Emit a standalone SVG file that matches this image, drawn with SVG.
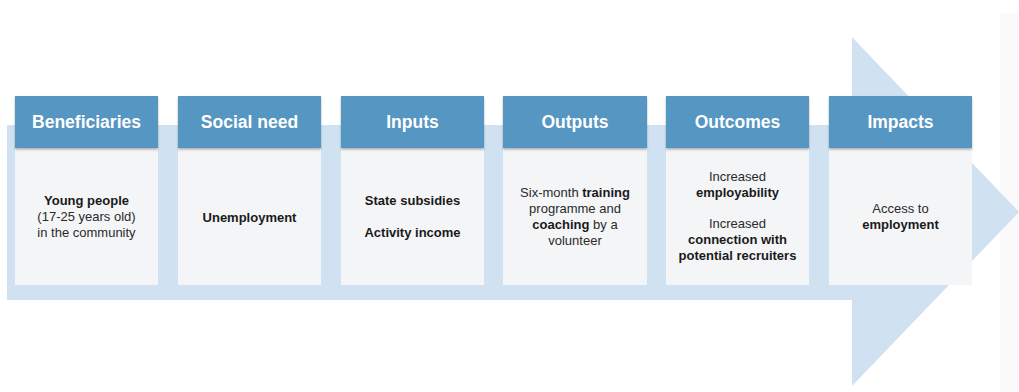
<svg xmlns="http://www.w3.org/2000/svg" width="1019" height="392" viewBox="0 0 1019 392">
<defs>
<filter id="sh" x="-5%" y="-10%" width="110%" height="130%">
<feDropShadow dx="0" dy="1.5" stdDeviation="1.2" flood-color="#000" flood-opacity="0.3"/>
</filter>
<style>
.hd{fill:#5596c2;filter:url(#sh)}
.bd{fill:#f4f5f7}
.ht{font-family:"Liberation Sans",Arial,sans-serif;font-size:17.5px;font-weight:bold;fill:#fff;text-anchor:middle}
.t{font-family:"Liberation Sans",Arial,sans-serif;font-size:13px;fill:#2a2a2a;text-anchor:middle}
.b{font-weight:bold;fill:#1a1a1a}
</style>
</defs>
<rect width="1019" height="392" fill="#fff"/>
<rect x="1000" y="13" width="19" height="379" fill="#fafafa"/>
<g id="arrow">
<polygon points="7,125 852,125 852,37 1019,212 852,386 852,300 7,300" fill="#d0e1f1"/>
</g>
<g id="connectors"></g>
<g id="beneficiaries">
<rect class="bd" x="15" y="148" width="143" height="137"/>
<rect class="hd" x="15" y="96" width="143" height="52"/>
<text class="ht" x="86.5" y="128">Beneficiaries</text>
<text class="t" x="86.5" y="205"><tspan class="b">Young people</tspan><tspan x="86.5" dy="16">(17-25 years old)</tspan><tspan x="86.5" dy="16">in the community</tspan></text>
</g>
<g id="social-need">
<rect class="bd" x="178" y="148" width="143" height="137"/>
<rect class="hd" x="178" y="96" width="143" height="52"/>
<text class="ht" x="249.5" y="128">Social need</text>
<text class="t b" x="249.5" y="222">Unemployment</text>
</g>
<g id="inputs">
<rect class="bd" x="341" y="148" width="143" height="137"/>
<rect class="hd" x="341" y="96" width="143" height="52"/>
<text class="ht" x="412.5" y="128">Inputs</text>
<text class="t b" x="412.5" y="205">State subsidies</text>
<text class="t b" x="412.5" y="237">Activity income</text>
</g>
<g id="outputs">
<rect class="bd" x="503" y="148" width="144" height="137"/>
<rect class="hd" x="503" y="96" width="144" height="52"/>
<text class="ht" x="575" y="128">Outputs</text>
<text class="t" x="575" y="197">Six-month <tspan class="b">training</tspan><tspan x="575" dy="16">programme and</tspan><tspan x="575" dy="16" class="b">coaching</tspan> by a<tspan x="575" dy="16">volunteer</tspan></text>
</g>
<g id="outcomes">
<rect class="bd" x="666" y="148" width="143" height="137"/>
<rect class="hd" x="666" y="96" width="143" height="52"/>
<text class="ht" x="737.5" y="128">Outcomes</text>
<text class="t" x="737.5" y="181">Increased<tspan x="737.5" dy="16" class="b">employability</tspan><tspan x="737.5" dy="31">Increased</tspan><tspan x="737.5" dy="16" class="b">connection with</tspan><tspan x="737.5" dy="16" class="b">potential recruiters</tspan></text>
</g>
<g id="impacts">
<rect class="bd" x="829" y="148" width="143" height="137"/>
<rect class="hd" x="829" y="96" width="143" height="52"/>
<text class="ht" x="900.5" y="128">Impacts</text>
<text class="t" x="900.5" y="213">Access to<tspan x="900.5" dy="16" class="b">employment</tspan></text>
</g>
</svg>
